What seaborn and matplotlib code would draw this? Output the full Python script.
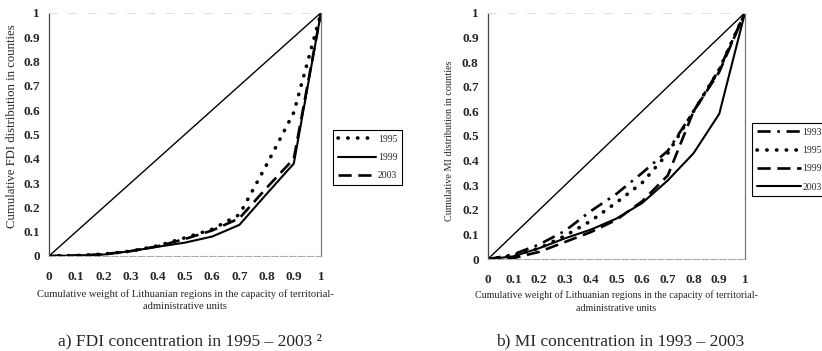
import numpy as np
import pandas as pd
import matplotlib
matplotlib.use("Agg")
import matplotlib.pyplot as plt
import seaborn as sns

# ---- data ----
x_share = [0, 0.1, 0.2, 0.3, 0.4, 0.5, 0.6, 0.7, 0.8, 0.9, 1.0]
tick_vals = [0, 0.1, 0.2, 0.3, 0.4, 0.5, 0.6, 0.7, 0.8, 0.9, 1.0]
tick_labels = ["0", "0.1", "0.2", "0.3", "0.4", "0.5", "0.6", "0.7", "0.8", "0.9", "1"]

fdi_1995 = [0, 0.002, 0.008, 0.02, 0.042, 0.075, 0.11, 0.17, 0.375, 0.59, 1.0]
fdi_1999 = [0, 0.002, 0.006, 0.02, 0.038, 0.055, 0.08, 0.128, 0.255, 0.38, 1.0]
fdi_2003 = [0, 0.002, 0.007, 0.02, 0.04, 0.07, 0.105, 0.155, 0.28, 0.40, 1.0]

mi_1993 = [0, 0.02, 0.06, 0.115, 0.195, 0.265, 0.35, 0.44, 0.60, 0.77, 1.0]
mi_1995 = [0, 0.015, 0.045, 0.095, 0.155, 0.23, 0.31, 0.43, 0.60, 0.77, 1.0]
mi_1999 = [0, 0.005, 0.03, 0.07, 0.11, 0.16, 0.235, 0.34, 0.60, 0.76, 1.0]
mi_2003 = [0, 0.012, 0.045, 0.085, 0.12, 0.165, 0.228, 0.32, 0.43, 0.59, 1.0]

equality = [0, 0.1, 0.2, 0.3, 0.4, 0.5, 0.6, 0.7, 0.8, 0.9, 1.0]

sns.set_style("white")
plt.rcParams['font.family'] = ['Liberation Serif', 'DejaVu Serif']

fig = plt.figure(figsize=(8.22, 3.51), dpi=100)
W, H = 822, 351

def px_axes(x0, x1, ytop, ybot):
    return fig.add_axes([x0 / W, 1 - ybot / H, (x1 - x0) / W, (ybot - ytop) / H])

axL = px_axes(49, 321, 12.7, 256)
axR = px_axes(487.7, 745, 12.7, 259.3)

styles = {
    "dot": dict(linestyle=(0, (0.1, 2.6)), linewidth=2.6, dash_capstyle="round"),
    "solid": dict(linestyle="-", linewidth=1.5),
    "dash": dict(linestyle=(0, (5, 2.5)), linewidth=1.9),
    "dashdot": dict(linestyle=(0, (5, 2.5, 1, 2.5)), linewidth=1.9),
}

def draw(ax, series):
    sns.lineplot(x=x_share, y=equality, ax=ax, color="black", linewidth=1.0, sort=False)
    for lab, vals, st in series:
        sns.lineplot(x=x_share, y=vals, ax=ax, color="black", sort=False, label=lab, **styles[st])
    ax.set_xlim(0, 1)
    ax.set_ylim(0, 1)
    ax.set_xticks(tick_vals)
    ax.set_xticklabels(tick_labels)
    ax.set_yticks(tick_vals)
    ax.set_yticklabels(tick_labels)
    ax.tick_params(axis="both", which="both", direction="out", length=2.5, width=0.6,
                   color="#555555", labelsize=9.5)
    ax.tick_params(axis="x", pad=8)
    ax.tick_params(axis="y", pad=4)
    for t in ax.get_xticklabels() + ax.get_yticklabels():
        t.set_fontweight("bold")
    ax.spines["left"].set_color("#444444")
    ax.spines["left"].set_linewidth(0.9)
    ax.spines["right"].set_color("#777777")
    ax.spines["right"].set_linewidth(0.9)
    ax.spines["bottom"].set_color("#aaaaaa")
    ax.spines["bottom"].set_linewidth(0.8)
    ax.spines["bottom"].set_linestyle((0, (6, 2)))
    ax.spines["top"].set_color("#dddddd")
    ax.spines["top"].set_linewidth(0.7)
    ax.spines["top"].set_linestyle((0, (8, 12)))

draw(axL, [("1995", fdi_1995, "dot"), ("1999", fdi_1999, "solid"), ("2003", fdi_2003, "dash")])
draw(axR, [("1993", mi_1993, "dashdot"), ("1995", mi_1995, "dot"),
           ("1999", mi_1999, "dash"), ("2003", mi_2003, "solid")])

xlab = "Cumulative weight of Lithuanian regions in the capacity of territorial-\nadministrative units"
axL.set_xlabel(xlab, fontsize=7.6, linespacing=1.45)
axL.xaxis.set_label_coords(0.5, -0.183)
axL.xaxis.label.set_va("center")
axR.set_xlabel(xlab, fontsize=7.2, linespacing=1.5)
axR.xaxis.set_label_coords(0.5, -0.171)
axR.xaxis.label.set_va("center")

axL.set_ylabel("Cumulative FDI distribution in counties", fontsize=9.2)
axL.yaxis.set_label_coords(-0.136, 0.532)
axL.yaxis.label.set_va("center")
axR.set_ylabel("Cumulative MI distribution in counties", fontsize=7.4)
axR.yaxis.set_label_coords(-0.147, 0.48)
axR.yaxis.label.set_va("center")

def legend(ax, x0, ytop, hl):
    leg = ax.legend(loc="upper left", bbox_to_anchor=(x0 / W, 1 - ytop / H),
                    bbox_transform=fig.transFigure, fontsize=7, frameon=True,
                    fancybox=False, edgecolor="black", handlelength=hl,
                    handletextpad=0.2, labelspacing=0.95, borderpad=0.5,
                    borderaxespad=0, framealpha=1)
    leg.get_frame().set_linewidth(0.8)

legend(axL, 333, 130, 3.9)
legend(axR, 752, 123, 4.5)

fig.text(190 / W, 1 - 341 / H, "a) FDI concentration in 1995 \u2013 2003 \u00b2",
         ha="center", va="center", fontsize=12.5)
fig.text(620 / W, 1 - 341 / H, "b) MI concentration in 1993 \u2013 2003",
         ha="center", va="center", fontsize=12.5)

fig.savefig("out.png", dpi=100)
